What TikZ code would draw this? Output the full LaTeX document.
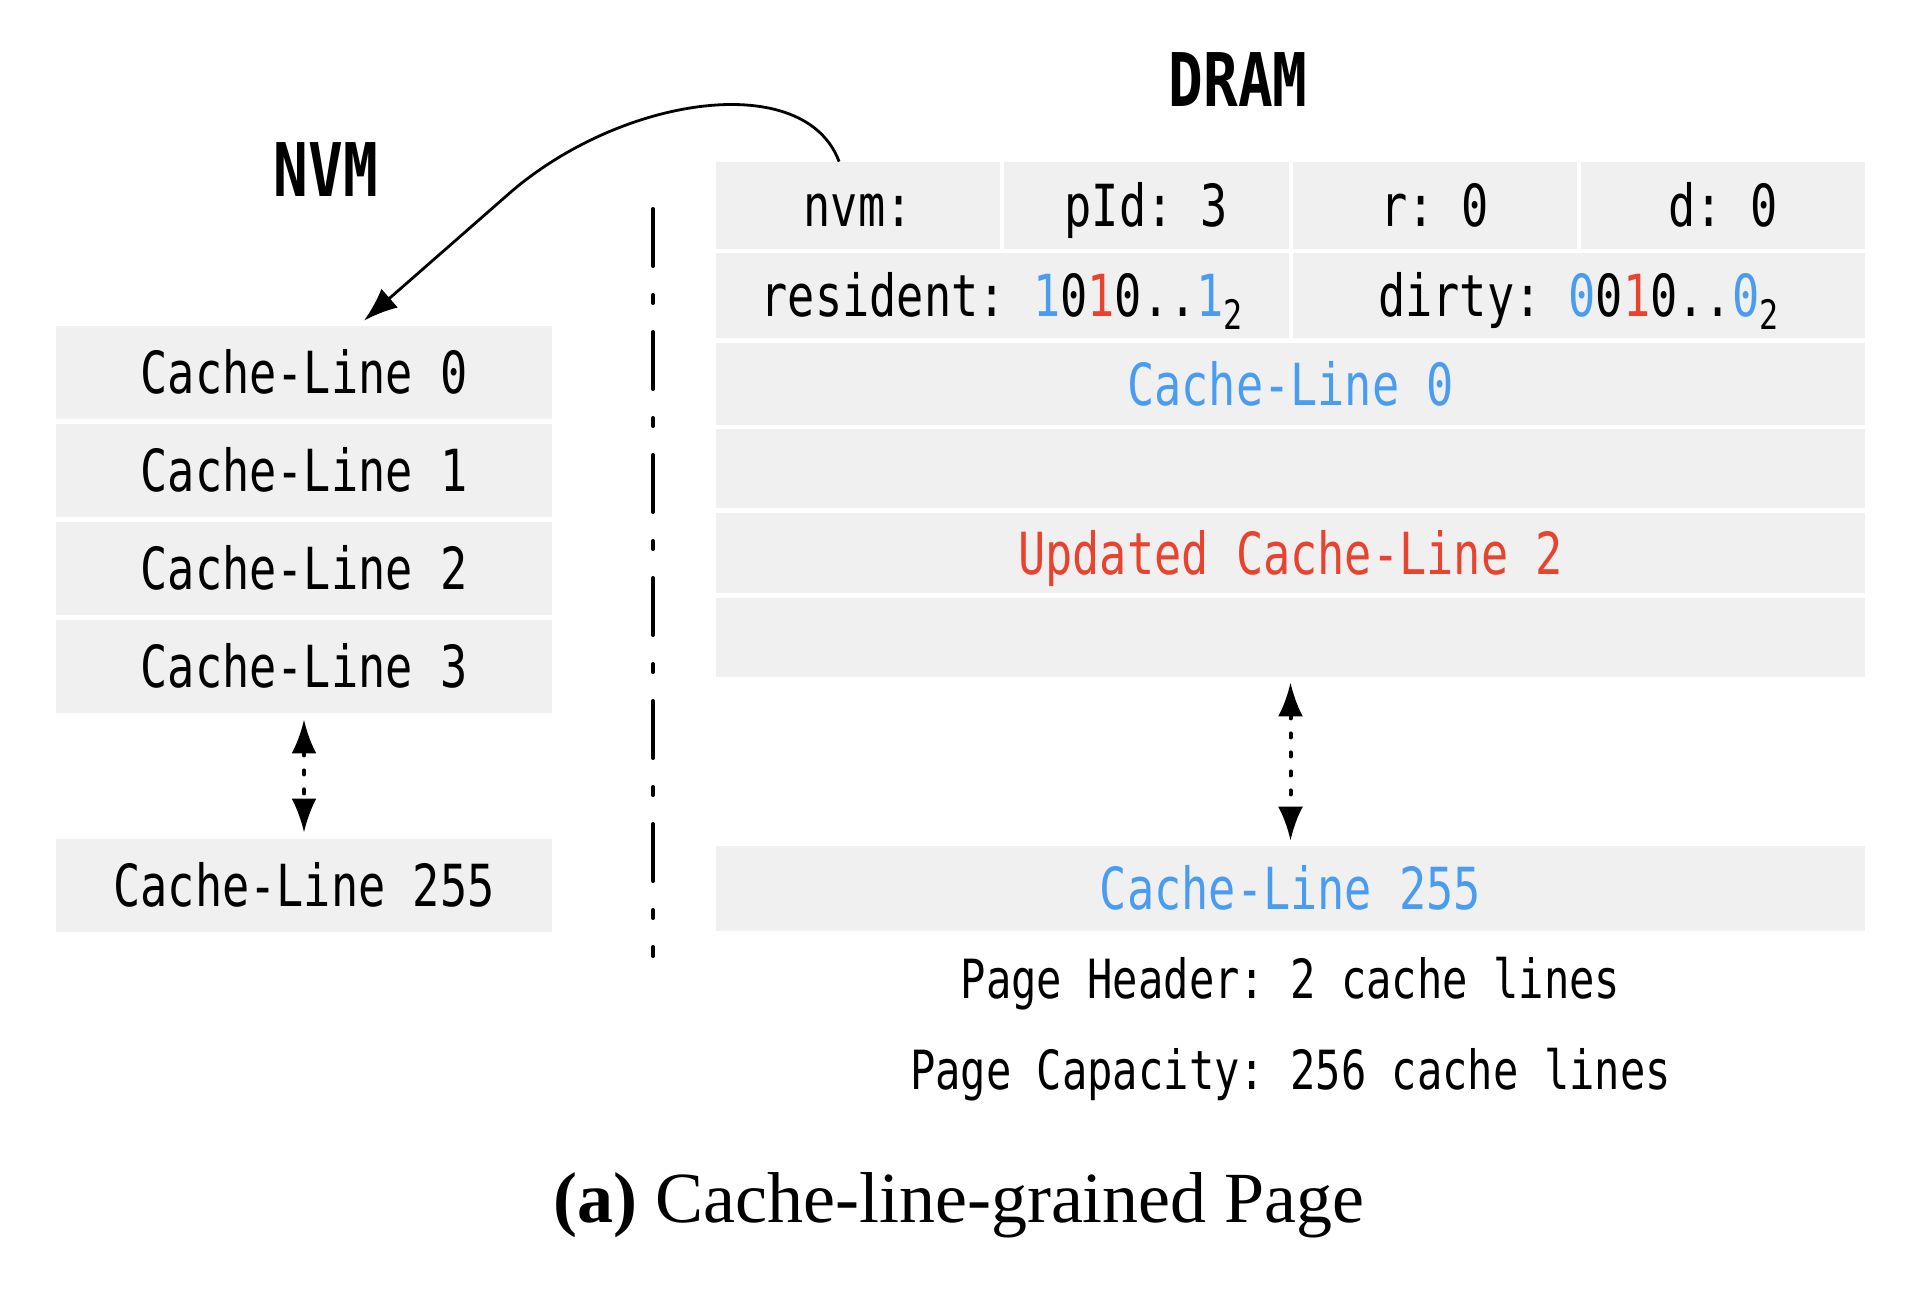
\documentclass[tikz,border=0pt]{standalone}
\usepackage{fontspec}
\setmonofont[FakeStretch=0.78]{DejaVu Sans Mono}
\newfontfamily\capfont{Liberation Serif}
\usetikzlibrary{arrows.meta}
\definecolor{cellgray}{HTML}{F0F0F0}
\definecolor{cblue}{HTML}{4A9CF0}
\definecolor{cred}{HTML}{E8432E}
\begin{document}
\begin{tikzpicture}[x=0.5pt,y=-0.5pt,
  cell/.style={fill=cellgray, inner sep=0pt, font=\ttfamily\fontsize{29}{34}\selectfont,
    text height=21.2pt, text depth=0pt},
  nvmcell/.style={cell, minimum width=248pt, minimum height=46.5pt},
  hcell/.style={cell, minimum width=142.1pt, minimum height=43.5pt},
  h2cell/.style={cell, minimum width=286.25pt, minimum height=42.5pt},
  dcell/.style={cell, minimum width=574.5pt},
  title/.style={font=\ttfamily\bfseries\fontsize{37}{42}\selectfont, anchor=base, inner sep=0pt},
  note/.style={font=\ttfamily\fontsize{27}{32}\selectfont, anchor=base, inner sep=0pt},
  dotarrow/.style={{Latex[length=17pt,width=12.5pt]}-{Latex[length=17pt,width=12.5pt]}, line width=2pt,
    dash pattern=on 2pt off 7.5pt, line cap=round},
  linkarrow/.style={-{Latex[length=17pt,width=12.5pt]}, line width=1.4pt},
  divider/.style={line width=2pt, line cap=round, dash pattern=on 28.5pt off 14.5pt on 4pt off 14.5pt}
]
\useasboundingbox (0,0) rectangle (1920,1303);

% titles
\node[title] (tnvm) at (326,196) {NVM};
\node[title] (tdram) at (1238,106.5) {DRAM};

% NVM column
\node[nvmcell] (n0) at (304,372.5) {Cache-Line 0};
\node[nvmcell] (n1) at (304,470.5) {Cache-Line 1};
\node[nvmcell] (n2) at (304,568.5) {Cache-Line 2};
\node[nvmcell] (n3) at (304,666.5) {Cache-Line 3};
\node[nvmcell] (n255) at (304,885.5) {Cache-Line 255};

% DRAM header
\node[hcell] (hnvm) at (858.1,205.5) {nvm:};
\node[hcell] (hpid) at (1146.4,205.5) {pId: 3};
\node[hcell] (hr) at (1434.6,205.5) {r: 0};
\node[hcell] (hd) at (1722.9,205.5) {d: 0};
\node[h2cell] (hres) at (1002.25,295.5) {resident: \textcolor{cblue}{1}0\textcolor{cred}{1}0..\textcolor{cblue}{1}\textsubscript{2}};
\node[h2cell] (hdirty) at (1578.75,295.5) {dirty: \textcolor{cblue}{0}0\textcolor{cred}{1}0..\textcolor{cblue}{0}\textsubscript{2}};

% DRAM lines
\node[dcell, minimum height=41pt, text=cblue] (d0) at (1290.5,384) {Cache-Line 0};
\node[dcell, minimum height=39.5pt] (d1) at (1290.5,468.5) {};
\node[dcell, minimum height=40pt, text=cred] (d2) at (1290.5,553) {Updated Cache-Line 2};
\node[dcell, minimum height=39.5pt] (d3) at (1290.5,637.5) {};
\node[dcell, minimum height=42.5pt, text=cblue] (d255) at (1290.5,888.5) {Cache-Line 255};

% notes
\node[note] (ph) at (1290.5,998) {Page Header: 2 cache lines};
\node[note] (pc) at (1290.5,1089) {Page Capacity: 256 cache lines};

% caption
\node[anchor=base, inner sep=0pt, font=\capfont\fontsize{36}{42}\selectfont] (cap) at (959,1222)
  {\textbf{(a)} Cache-line-grained Page};

% divider
\coordinate (divtop) at (653,209);
\coordinate (divbot) at (653,956);
\draw[divider] (divtop) -- (divbot);

% dotted arrows
\draw[dotarrow, shorten <=3pt, shorten >=3pt] (n3.south) -- (n255.north);
\draw[dotarrow, shorten <=2.5pt, shorten >=2.5pt] (d3.south) -- (d255.north);

% link arrow
\coordinate (bend) at (512,191);
\draw[linkarrow] ([xshift=-9.5pt]hnvm.north) .. controls (805,70) and (625,95) .. (bend)
  -- ([xshift=30pt,yshift=2.5pt]n0.north);
\end{tikzpicture}
\end{document}
